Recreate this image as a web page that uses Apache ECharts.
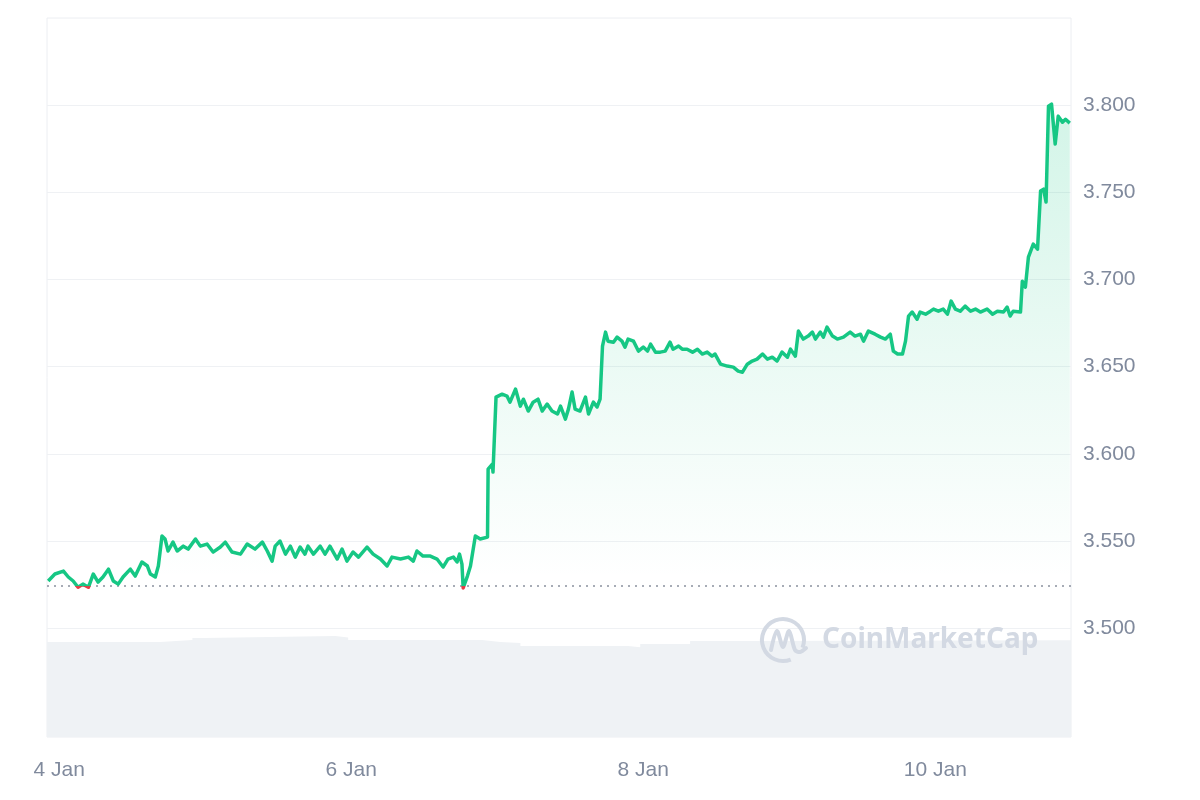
<!DOCTYPE html>
<html>
<head>
<meta charset="utf-8">
<script src="https://cdn.jsdelivr.net/npm/echarts@6/dist/echarts.min.js"></script>
<style>html,body{margin:0;padding:0;background:#fff}#c{width:1200px;height:800px}</style>
</head>
<body>
<div id="c"></div>
<script>
// hours since 4 Jan 00:00
const times = [-1.8,-0.7,0.7,1.5,2.3,3.1,3.9,4.8,5.6,6.4,7.2,8.1,8.9,9.7,10.5,11.7,12.5,13.6,14.5,15.0,15.8,16.3,16.9,17.4,17.9,18.7,19.4,20.4,21.2,22.4,23.2,24.3,25.3,26.5,27.3,28.4,29.8,30.9,32.2,33.4,34.2,35.0,35.5,36.3,37.2,38.0,38.8,39.6,40.4,40.9,41.8,42.9,43.7,44.5,45.7,46.5,47.3,48.3,49.2,50.6,51.6,52.8,53.9,54.7,56.1,57.4,58.2,58.8,59.8,61.0,62.1,63.1,63.9,64.8,65.4,65.8,66.2,66.4,67.1,67.6,68.4,69.2,70.4,70.5,71.2,71.3,71.8,72.8,73.6,74.1,75.0,75.8,76.3,77.1,77.9,78.7,79.4,80.2,81.0,81.9,82.4,83.2,83.7,84.3,84.8,85.6,86.5,87.0,87.8,88.4,88.9,89.3,89.8,90.2,91.1,91.7,92.5,93.0,93.5,94.4,95.2,96.0,96.7,97.2,98.0,98.8,99.6,100.4,100.9,101.8,102.4,103.2,104.1,104.9,105.7,106.5,107.3,107.8,108.7,109.8,110.8,111.6,112.3,113.1,113.9,114.7,115.6,116.4,117.2,118.0,118.8,119.7,120.2,121.0,121.5,122.3,123.1,123.8,124.3,125.1,125.6,126.2,127.1,127.9,128.9,130.0,130.8,131.7,132.2,133.0,134.1,135.0,135.8,136.6,137.1,137.8,138.6,139.1,139.6,140.2,141.0,141.5,142.4,143.2,143.7,144.5,145.3,146.0,146.6,147.3,148.1,148.9,149.8,150.6,151.4,152.5,153.4,154.2,155.2,155.8,156.3,156.8,158.0,158.3,158.8,159.3,160.1,160.8,161.3,161.8,162.2,162.6,163.1,163.7,164.2,164.9,165.4,166.1];
const prices = [3.5270,3.5310,3.5327,3.5293,3.5270,3.5234,3.5252,3.5234,3.5310,3.5264,3.5293,3.5338,3.5270,3.5252,3.5293,3.5338,3.5298,3.5379,3.5356,3.5310,3.5293,3.5356,3.5528,3.5511,3.5442,3.5493,3.5442,3.5470,3.5453,3.5511,3.5470,3.5482,3.5436,3.5465,3.5493,3.5436,3.5424,3.5482,3.5453,3.5493,3.5442,3.5384,3.5470,3.5499,3.5424,3.5470,3.5407,3.5465,3.5424,3.5470,3.5424,3.5470,3.5424,3.5470,3.5396,3.5453,3.5384,3.5436,3.5407,3.5465,3.5424,3.5396,3.5356,3.5407,3.5396,3.5407,3.5384,3.5442,3.5413,3.5413,3.5396,3.5350,3.5396,3.5407,3.5379,3.5424,3.5367,3.5230,3.5298,3.5356,3.5528,3.5511,3.5522,3.5912,3.5941,3.5895,3.6325,3.6342,3.6331,3.6296,3.6371,3.6273,3.6313,3.6245,3.6296,3.6313,3.6245,3.6285,3.6245,3.6228,3.6273,3.6199,3.6256,3.6354,3.6256,3.6245,3.6325,3.6228,3.6296,3.6268,3.6313,3.6618,3.6698,3.6646,3.6640,3.6669,3.6646,3.6612,3.6658,3.6646,3.6589,3.6612,3.6589,3.6629,3.6583,3.6583,3.6589,3.6640,3.6600,3.6618,3.6600,3.6600,3.6583,3.6600,3.6572,3.6583,3.6560,3.6572,3.6514,3.6503,3.6497,3.6474,3.6468,3.6514,3.6532,3.6543,3.6572,3.6543,3.6554,3.6532,3.6583,3.6554,3.6600,3.6560,3.6704,3.6658,3.6675,3.6698,3.6658,3.6698,3.6669,3.6727,3.6675,3.6658,3.6669,3.6698,3.6675,3.6686,3.6646,3.6704,3.6686,3.6669,3.6658,3.6686,3.6589,3.6572,3.6572,3.6646,3.6790,3.6813,3.6772,3.6813,3.6801,3.6818,3.6830,3.6818,3.6830,3.6801,3.6876,3.6830,3.6818,3.6847,3.6818,3.6830,3.6813,3.6830,3.6801,3.6818,3.6813,3.6841,3.6790,3.6818,3.6813,3.6990,3.6956,3.7128,3.7203,3.7174,3.7507,3.7518,3.7444,3.7994,3.8006,3.7777,3.7937,3.7902,3.7919,3.7897];
const refPrice = 3.5241;
// rolling volume (hidden scale)
const volTimes = [-2,16.6,21.9,23.7,45.4,47.5,69.5,72.5,75.8,93.5,95.5,103.7,111.0,166.3];
const volValues = [92.5,94.4,96.4,98.3,96.9,94.4,92.5,91.5,88.6,87.5,90.5,93.5,94.2,94.2];
const yTicks = [3.5,3.55,3.6,3.65,3.7,3.75,3.8];
const xTicks = [0,48,96,144];
const xTickLabels = ['4 Jan','6 Jan','8 Jan','10 Jan'];
const xMin = -2, xMax = 166.3;

const priceData = times.map((t,i)=>[t,prices[i]]);
const volData = volTimes.map((t,i)=>[t,volValues[i]]);
const refData = [[xMin,refPrice],[xMax,refPrice]];
const labelColor = '#808a9d';
const wm = '#d3d9e3';
const green = '#16c784', red = '#ea3943';

const chart = echarts.init(document.getElementById('c'));
chart.setOption({
  animation:false,
  backgroundColor:'#fff',
  grid:{left:47,right:129,top:18,bottom:63,show:true,borderColor:'#eceef2',borderWidth:1,containLabel:false},
  xAxis:{type:'value',min:xMin,max:xMax,
    axisLine:{show:false},axisTick:{show:false,customValues:xTicks},splitLine:{show:false},
    axisLabel:{customValues:xTicks,margin:23,color:labelColor,fontSize:21,fontFamily:'Liberation Sans',
      formatter:v=>{const i=xTicks.indexOf(v);return i>=0?xTickLabels[i]:'';}}},
  yAxis:[{type:'value',position:'right',min:3.4375,max:3.85,
    axisLine:{show:false},axisTick:{show:false,customValues:yTicks},
    splitLine:{show:true,lineStyle:{color:'#eff1f4',width:1}},
    axisLabel:{customValues:yTicks,margin:12,padding:[3,0,0,0],color:labelColor,fontSize:21,fontFamily:'Liberation Sans',
      formatter:v=>v.toFixed(3)}},
   {type:'value',min:0,max:700,show:false,splitLine:{show:false}}],
  series:[
    {id:'vol',type:'line',yAxisIndex:1,data:volData,step:'end',showSymbol:false,silent:true,
     lineStyle:{width:0},areaStyle:{color:'#eff2f5',opacity:1},z:1},
    {id:'ref',type:'line',yAxisIndex:0,data:refData,showSymbol:false,silent:true,z:2,
     lineStyle:{type:[2,5],color:'#8a919e',width:1.6}},
    {id:'price',type:'line',yAxisIndex:0,data:priceData,showSymbol:false,silent:true,z:3,
     lineStyle:{width:3.5,join:'round',color:green},
     areaStyle:{origin:'start',color:new echarts.graphic.LinearGradient(0,0,0,1,[
       {offset:0,color:'rgba(22,199,132,0.27)'},{offset:0.75,color:'rgba(22,199,132,0.0)'}])}}
  ],
  graphic:[
    {type:'arc',shape:{cx:783,cy:640,r:21,startAngle:Math.PI*0.38,endAngle:Math.PI*2.12,clockwise:true},
     style:{stroke:wm,lineWidth:4,fill:null},z:10},
    {type:'polyline',shape:{points:[[771,650],[777,631],[783,647],[789,631],[795,650],[800,652],[806,648]],smooth:0.3},
     style:{stroke:wm,lineWidth:4,fill:null,lineCap:'round',lineJoin:'round'},z:10},
    {type:'text',left:822,top:626,style:{text:'CoinMarketCap',fill:wm,font:'bold 28px "Noto Sans"'},z:10}
  ]
});
// colour the price line red below the reference price (threshold from the axis scale)
const yRef = chart.convertToPixel({yAxisIndex:0}, refPrice);
chart.setOption({series:[{id:'price',lineStyle:{color:new echarts.graphic.LinearGradient(0,yRef,0,yRef+0.5,[
  {offset:0,color:green},{offset:1,color:red}],true)}}]});
</script>
</body>
</html>
